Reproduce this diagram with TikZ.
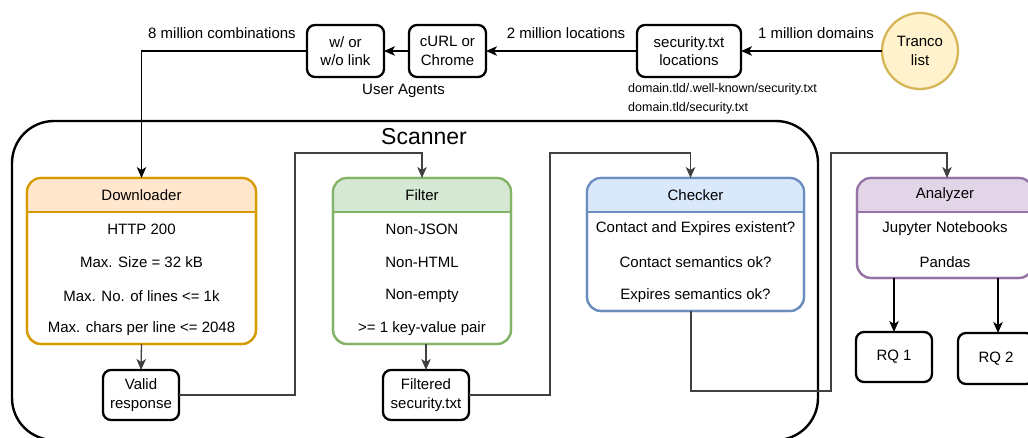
\documentclass[tikz,border=0pt]{standalone}
\usepackage{fontspec}
\setmainfont{Liberation Sans}
\usetikzlibrary{arrows.meta}

\definecolor{orangeE}{HTML}{D79B00}
\definecolor{orangeF}{HTML}{FFE6CC}
\definecolor{greenE}{HTML}{82B366}
\definecolor{greenF}{HTML}{D5E8D4}
\definecolor{blueE}{HTML}{6C8EBF}
\definecolor{blueF}{HTML}{DAE8FC}
\definecolor{purpE}{HTML}{9673A6}
\definecolor{purpF}{HTML}{E1D5E7}
\definecolor{yelE}{HTML}{D6B656}
\definecolor{yelF}{HTML}{FFF2CC}
\definecolor{wireC}{HTML}{404040}

\newcommand\fsmain{\fontsize{15}{18.5}\selectfont}
\newcommand\fssmall{\fontsize{12.5}{15}\selectfont}
\newcommand\fsbig{\fontsize{23}{27}\selectfont}

% A stage panel: coloured header strip with a title, white body, rounded outline
% #1 name, #2 centre, #3 width, #4 height, #5 colour family, #6 title
\newcommand\stagepanel[6]{%
  \node[panel, draw=#5E, minimum width=#3, minimum height=#4] (#1) at #2 {};
  \begin{scope}
    \clip[rounded corners=14pt] (#1.north west) rectangle (#1.south east);
    \fill[#5F] (#1.north west) rectangle ([yshift=-34pt]#1.north east);
  \end{scope}
  \draw[#5E, line width=2.2pt] ([yshift=-34pt]#1.north west) -- ([yshift=-34pt]#1.north east);
  \draw[#5E, line width=2.2pt, rounded corners=14pt] (#1.north west) rectangle (#1.south east);
  \node[txt] (#1-title) at ([yshift=-17pt]#1.north) {#6};
}

\tikzset{
  txt/.style={font=\fsmain, inner sep=0pt, align=center, text=black},
  small/.style={font=\fssmall, inner sep=0pt, anchor=west, text=black},
  box/.style={draw=black, line width=2.3pt, rounded corners=8pt, fill=white,
    align=center, font=\fsmain, inner sep=0pt, outer sep=0pt},
  panel/.style={line width=2.2pt, fill=white, rounded corners=14pt,
    inner sep=0pt, outer sep=0pt},
  tip/.style={-{Stealth[length=11pt,width=9.5pt,inset=3pt]}},
  link/.style={tip, draw=black, line width=1.3pt},
  wire/.style={tip, draw=wireC, line width=1.3pt},
}

\begin{document}
\begin{tikzpicture}[x=1pt, y=-1pt]
\clip (0,0) rectangle (1028,437);
\useasboundingbox (0,0) rectangle (1028,437);

% ---- input side -------------------------------------------------------
\node[circle, draw=yelE, fill=yelF, line width=2.3pt, minimum size=76,
      inner sep=0pt, outer sep=0pt, align=center, font=\fsmain] (tranco) at (920,51) {Tranco\\list};
\node[box, minimum width=104, minimum height=52] (loc)  at (689,51) {security.txt\\locations};
\node[box, minimum width=77,  minimum height=52] (curl) at (447.5,51) {cURL or\\Chrome};
\node[box, minimum width=77,  minimum height=52] (ua)   at (345.5,51) {w/ or\\w/o link};

\node[txt] (lbl-dom) at (816,33) {1 million domains};
\node[txt] (lbl-loc) at (566,33) {2 million locations};
\node[txt] (lbl-comb) at (222,33) {8 million combinations};
\node[txt] (lbl-ua) at (403.5,91) {User Agents};
\node[small] (path-wk) at (628,89) {domain.tld/.well-known/security.txt};
\node[small] (path-root) at (628,108) {domain.tld/security.txt};

% ---- scanner frame ----------------------------------------------------
\draw[line width=2.4pt, rounded corners=42pt] (12,121) rectangle (818,440);
\node[font=\fsbig, inner sep=0pt] (scanner) at (424,137) {Scanner};

% ---- stages -----------------------------------------------------------
\stagepanel{down}{(141.5,261)}{229}{166}{orange}{Downloader}
\node[txt] (down-1) at (141.5,229) {HTTP 200};
\node[txt] (down-2) at (141.5,262.5) {Max. Size = 32 kB};
\node[txt] (down-3) at (141.5,296) {Max. No. of lines <= 1k};
\node[txt] (down-4) at (141.5,329) {Max. chars per line <= 2048};

\stagepanel{filter}{(422,261)}{178}{166}{green}{Filter}
\node[txt] (filter-1) at (422,229) {Non-JSON};
\node[txt] (filter-2) at (422,262.5) {Non-HTML};
\node[txt] (filter-3) at (422,296) {Non-empty};
\node[txt] (filter-4) at (422,329) {>= 1 key-value pair};

\stagepanel{check}{(695.5,244.5)}{217}{133}{blue}{Checker}
\node[txt] (check-1) at (695.5,229) {Contact and Expires existent?};
\node[txt] (check-2) at (695.5,262.5) {Contact semantics ok?};
\node[txt] (check-3) at (695.5,296) {Expires semantics ok?};

\stagepanel{ana}{(945,228)}{176}{100}{purp}{Analyzer}
\node[txt] (ana-1) at (945,229) {Jupyter Notebooks};
\node[txt] (ana-2) at (945,262.5) {Pandas};

% ---- stage outputs ----------------------------------------------------
\node[box, minimum width=76, minimum height=50] (valid) at (141,395) {Valid\\response};
\node[box, minimum width=86, minimum height=50] (filt)  at (426,395) {Filtered\\security.txt};
\node[box, minimum width=76, minimum height=50] (rq1)   at (894,357) {RQ 1};
\node[box, minimum width=76, minimum height=51] (rq2)   at (996,358.5) {RQ 2};

% ---- connectors -------------------------------------------------------
\draw[link] (tranco) -- (loc);
\draw[link] (loc) -- (curl);
\draw[link] (curl) -- (ua);
\draw[link] (ua.west) -| (down.north);

\coordinate (bend-a) at (295,153);
\coordinate (bend-b) at (550,153);
\coordinate (bend-c) at (831,391);
\coordinate (bend-d) at (831,153);
\coordinate (check-out) at (691,311);

\draw[wire] (down.south) -- (valid.north);
\draw[wire] (valid.east) -| (bend-a) -| (filter.north);
\draw[wire] (filt.north |- filter.south) -- (filt.north);
\draw[wire] (filt.east) -| (bend-b) -| ([xshift=-5pt]check.north);
\draw[wire] (check-out) |- (bend-c) -- (bend-d) -| ([xshift=2pt]ana.north);
\draw[link] (rq1.north |- ana.south) -- (rq1.north);
\draw[link] ([xshift=2pt]rq2.north |- ana.south) -- ([xshift=2pt]rq2.north);
\end{tikzpicture}
\end{document}
